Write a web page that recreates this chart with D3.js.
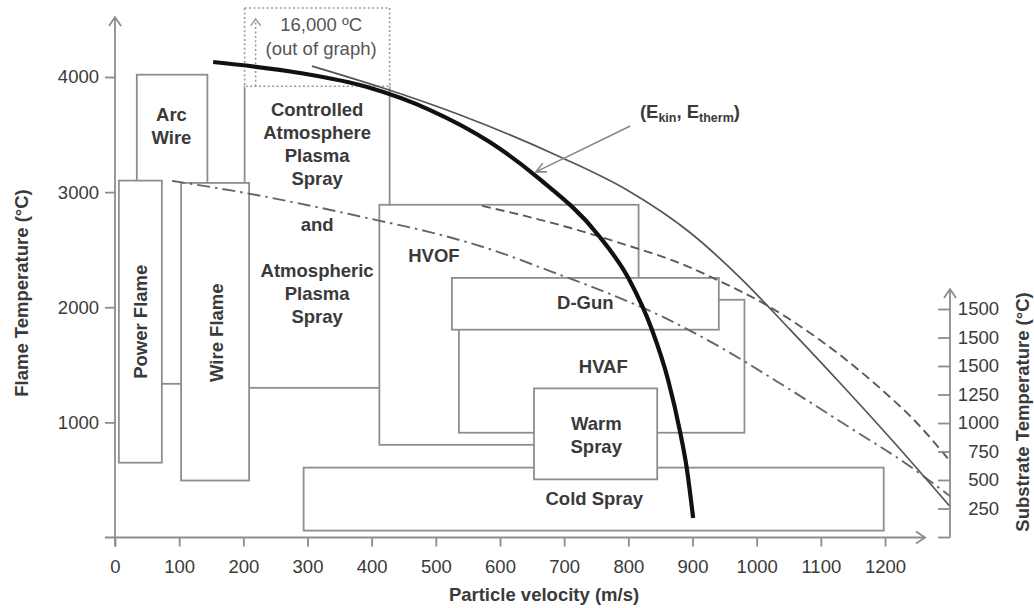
<!DOCTYPE html>
<html>
<head>
<meta charset="utf-8">
<script src="https://cdn.jsdelivr.net/npm/d3@7/dist/d3.min.js"></script>
<style>
  html, body { margin: 0; padding: 0; background: #fff; }
  svg { display: block; }
</style>
</head>
<body>
<svg id="chart" width="1034" height="608"></svg>
<script>
// ---- Axis ticks ----
const velocityTicks = [0, 100, 200, 300, 400, 500, 600, 700, 800, 900, 1000, 1100, 1200];
const flameTicks = [1000, 2000, 3000, 4000];
const substrateTicks = [0, 250, 500, 750, 1000, 1250, 1500, 1750, 2000];
const substrateTickLabels = ["", "250", "500", "750", "1000", "1250", "1500", "1500", "1500"];

// ---- Thermal spray process windows (velocity m/s, flame temperature °C) ----
const processes = ["Arc Wire", "Plasma Spray", "Power Flame", "Wire Flame", "HVOF", "HVAF", "D-Gun", "Cold Spray", "Warm Spray"];
const velocityMin = [34, 202, 6, 103, 412, 536, 525, 294, 653];
const velocityMax = [144, 428, 73, 209, 816, 981, 941, 1198, 845];
const tempMin = [1335, 1300, 650, 495, 805, 910, 1805, 60, 505];
const tempMax = [4020, 3920, 3100, 3080, 2890, 2065, 2255, 607, 1295];
const processLabels = [
  ["Arc", "Wire"],
  ["Controlled", "Atmosphere", "Plasma", "Spray", "", "and", "", "Atmospheric", "Plasma", "Spray"],
  ["Power Flame"],
  ["Wire Flame"],
  ["HVOF"],
  ["HVAF"],
  ["D-Gun"],
  ["Cold Spray"],
  ["Warm", "Spray"]
];
const labelVelocity = [88, 315, 40, 158, 497, 761, 733, 747, 750];
const labelTemp = [3570, 2816, 1874, 1779, 2447, 1484, 2039, 338, 894];
const verticalLabels = ["Power Flame", "Wire Flame"];

// Plasma range that extends beyond the temperature axis
const plasmaExtent = { vMin: 202, vMax: 428, tMin: 3920, tMax: 4600 };
const plasmaNote = ["16,000 ºC", "(out of graph)"];

// ---- Trend curves [velocity, temperature] ----
const energyCurve = [[153, 4130], [288, 4035], [393, 3913], [491, 3713], [584, 3435], [658, 3131],
  [753, 2628], [800, 2254], [837, 1802], [862, 1368], [881, 908], [891, 604], [901, 170]];
const solidCurve = [[307, 4095], [413, 3913], [538, 3670], [694, 3305], [798, 3018], [896, 2649],
  [974, 2258], [1052, 1806], [1130, 1342], [1208, 864], [1302, 265]];
const dashedCurve = [[572, 2881], [681, 2733], [786, 2560], [891, 2358], [942, 2228], [1009, 2039],
  [1098, 1718], [1177, 1371], [1255, 963], [1302, 659]];
const dashDotCurve = [[89, 3098], [203, 2993], [313, 2872], [406, 2759], [489, 2655], [578, 2516],
  [681, 2308], [786, 2082], [853, 1918], [942, 1657], [1047, 1302], [1150, 937], [1228, 660], [1302, 356]];

// Callout for the energy curve
const calloutFrom = [803, 3575];
const calloutTo = [656, 3176];
const calloutText = [818, 3640];

// ---- Layout ----
const font = '"Liberation Sans", Arial, sans-serif';
const ink = "#3a3a3a";
const axisColor = "#8c8c8c";
const boxColor = "#8e8e8e";

const svg = d3.select("#chart").attr("font-family", font);

const x = d3.scaleLinear().domain([0, 1200]).range([115, 885]);
const y = d3.scaleLinear().domain([0, 4000]).range([537.5, 77]);
const ySub = d3.scaleLinear().domain([0, 2000]).range([537, 309]);

const baseY = y(0);
const leftX = x(0);
const rightX = 950;
const xAxisEnd = 925;
const yAxisTop = 17;
const subAxisTop = 289;

// ---- Process boxes ----
const boxes = processes.map((name, i) => ({
  name, i,
  x0: x(velocityMin[i]), x1: x(velocityMax[i]),
  y0: y(tempMax[i]), y1: y(tempMin[i])
}));

const gBoxes = svg.append("g");
gBoxes.selectAll("rect")
  .data(boxes)
  .join("rect")
  .attr("x", d => d.x0)
  .attr("y", d => d.y0)
  .attr("width", d => d.x1 - d.x0)
  .attr("height", d => d.y1 - d.y0)
  .attr("fill", "#fff")
  .attr("stroke", boxColor)
  .attr("stroke-width", 1.8);

// Dotted extension of the plasma window above the axis range
const pe = {
  x0: x(plasmaExtent.vMin), x1: x(plasmaExtent.vMax),
  y0: y(plasmaExtent.tMax), y1: y(plasmaExtent.tMin)
};
svg.append("line")
  .attr("x1", pe.x0).attr("x2", pe.x1).attr("y1", pe.y1).attr("y2", pe.y1)
  .attr("stroke", "#fff").attr("stroke-width", 2.4);
svg.append("rect")
  .attr("x", pe.x0).attr("y", pe.y0)
  .attr("width", pe.x1 - pe.x0).attr("height", pe.y1 - pe.y0)
  .attr("fill", "none")
  .attr("stroke", "#9a9a9a")
  .attr("stroke-width", 1.6)
  .attr("stroke-dasharray", "2,2.4");
const arrowX = pe.x0 + 11;
svg.append("line")
  .attr("x1", arrowX).attr("x2", arrowX).attr("y1", pe.y1).attr("y2", pe.y0 + 11)
  .attr("stroke", "#9a9a9a").attr("stroke-width", 1.6).attr("stroke-dasharray", "2,2.4");
svg.append("path")
  .attr("d", `M${arrowX - 5},${pe.y0 + 18}L${arrowX},${pe.y0 + 11}L${arrowX + 5},${pe.y0 + 18}`)
  .attr("fill", "none").attr("stroke", "#9a9a9a").attr("stroke-width", 1.5);
const noteX = (pe.x0 + pe.x1) / 2 + 4;
svg.append("g")
  .selectAll("text")
  .data(plasmaNote)
  .join("text")
  .attr("x", noteX)
  .attr("y", (d, i) => pe.y0 + 17 + i * 24)
  .attr("dy", "0.35em")
  .attr("text-anchor", "middle")
  .attr("font-size", 18.5)
  .attr("fill", "#555")
  .text(d => d);

// ---- Box labels ----
const lineHeight = 23;
const gLabels = svg.append("g")
  .attr("font-size", 18.5)
  .attr("font-weight", "bold")
  .attr("fill", ink)
  .attr("text-anchor", "middle");

boxes.forEach(b => {
  const cx = x(labelVelocity[b.i]);
  const cy = y(labelTemp[b.i]);
  const lines = processLabels[b.i];
  if (verticalLabels.includes(b.name)) {
    gLabels.append("text")
      .attr("transform", `translate(${cx},${cy}) rotate(-90)`)
      .attr("dy", "0.35em")
      .text(lines[0]);
  } else {
    lines.forEach((t, k) => {
      if (!t) return;
      gLabels.append("text")
        .attr("x", cx)
        .attr("y", cy + (k - (lines.length - 1) / 2) * lineHeight)
        .attr("dy", "0.35em")
        .text(t);
    });
  }
});

// ---- Curves ----
const line = d3.line()
  .x(d => x(d[0]))
  .y(d => y(d[1]))
  .curve(d3.curveMonotoneX);

svg.append("path").datum(dashDotCurve)
  .attr("d", line).attr("fill", "none")
  .attr("stroke", "#666").attr("stroke-width", 1.9)
  .attr("stroke-dasharray", "13,5,2.5,5");
svg.append("path").datum(dashedCurve)
  .attr("d", line).attr("fill", "none")
  .attr("stroke", "#5a5a5a").attr("stroke-width", 1.9)
  .attr("stroke-dasharray", "9,5");
svg.append("path").datum(solidCurve)
  .attr("d", line).attr("fill", "none")
  .attr("stroke", "#555").attr("stroke-width", 1.7);
svg.append("path").datum(energyCurve)
  .attr("d", line).attr("fill", "none")
  .attr("stroke", "#111").attr("stroke-width", 4.2)
  .attr("stroke-linecap", "butt");

// ---- Callout ----
const cf = [x(calloutFrom[0]), y(calloutFrom[1])];
const ct = [x(calloutTo[0]), y(calloutTo[1])];
svg.append("line")
  .attr("x1", cf[0]).attr("y1", cf[1]).attr("x2", ct[0]).attr("y2", ct[1])
  .attr("stroke", "#888").attr("stroke-width", 1.6);
{
  const ang = Math.atan2(ct[1] - cf[1], ct[0] - cf[0]);
  const len = 11, spread = 0.45;
  const p1 = [ct[0] - len * Math.cos(ang - spread), ct[1] - len * Math.sin(ang - spread)];
  const p2 = [ct[0] - len * Math.cos(ang + spread), ct[1] - len * Math.sin(ang + spread)];
  svg.append("path")
    .attr("d", `M${p1[0]},${p1[1]}L${ct[0]},${ct[1]}L${p2[0]},${p2[1]}`)
    .attr("fill", "none").attr("stroke", "#888").attr("stroke-width", 1.6);
}
const ek = svg.append("text")
  .attr("x", x(calloutText[0]))
  .attr("y", y(calloutText[1]))
  .attr("font-size", 18.5)
  .attr("font-weight", "bold")
  .attr("fill", ink);
ek.append("tspan").text("(E");
ek.append("tspan").attr("font-size", 12.5).attr("dy", 4).text("kin");
ek.append("tspan").attr("dy", -4).text(", E");
ek.append("tspan").attr("font-size", 12.5).attr("dy", 4).text("therm");
ek.append("tspan").attr("dy", -4).text(")");

// ---- Axes ----
const plain = d3.format("d");
function styleAxis(g) {
  g.attr("font-family", font).attr("font-size", 18.5);
  g.select(".domain").remove();
  g.selectAll(".tick line").attr("stroke", axisColor).attr("stroke-width", 1.8);
  g.selectAll(".tick text").attr("fill", ink);
}

svg.append("g")
  .attr("transform", `translate(0,${baseY})`)
  .call(d3.axisBottom(x).tickValues(velocityTicks).tickFormat(plain).tickSize(9).tickPadding(13))
  .call(styleAxis);

svg.append("g")
  .attr("transform", `translate(${leftX},0)`)
  .call(d3.axisLeft(y).tickValues(flameTicks).tickFormat(plain).tickSize(10).tickPadding(6))
  .call(styleAxis);

const gRight = svg.append("g")
  .attr("transform", `translate(${rightX},0)`)
  .call(d3.axisRight(ySub)
    .tickValues(substrateTicks)
    .tickFormat(d => substrateTickLabels[substrateTicks.indexOf(d)])
    .tickSizeInner(-12).tickSizeOuter(0).tickPadding(8))
  .call(styleAxis);
gRight.selectAll(".tick text").attr("text-anchor", "end").attr("x", 49);

// Axis lines with open arrowheads
const gAxisLines = svg.append("g")
  .attr("fill", "none")
  .attr("stroke", axisColor)
  .attr("stroke-width", 1.8);
gAxisLines.append("line").attr("x1", leftX).attr("x2", leftX).attr("y1", baseY + 9).attr("y2", yAxisTop);
gAxisLines.append("path").attr("d", `M${leftX - 6},${yAxisTop + 9}L${leftX},${yAxisTop}L${leftX + 6},${yAxisTop + 9}`);
gAxisLines.append("line").attr("x1", leftX - 10).attr("x2", xAxisEnd).attr("y1", baseY).attr("y2", baseY);
gAxisLines.append("path").attr("d", `M${xAxisEnd - 9},${baseY - 6}L${xAxisEnd},${baseY}L${xAxisEnd - 9},${baseY + 6}`);
gAxisLines.append("line").attr("x1", rightX).attr("x2", rightX).attr("y1", baseY).attr("y2", subAxisTop);
gAxisLines.append("path").attr("d", `M${rightX - 6},${subAxisTop + 9}L${rightX},${subAxisTop}L${rightX + 6},${subAxisTop + 9}`);

// ---- Axis titles ----
const gTitles = svg.append("g")
  .attr("font-size", 18.5)
  .attr("font-weight", "bold")
  .attr("fill", ink)
  .attr("text-anchor", "middle");
gTitles.append("text")
  .attr("x", 544).attr("y", 601)
  .text("Particle velocity (m/s)");
gTitles.append("text")
  .attr("transform", "translate(22,293) rotate(-90)")
  .attr("dy", "0.35em")
  .text("Flame Temperature (°C)");
gTitles.append("text")
  .attr("transform", "translate(1023,412) rotate(-90)")
  .attr("dy", "0.35em")
  .text("Substrate Temperature (°C)");
</script>
</body>
</html>
